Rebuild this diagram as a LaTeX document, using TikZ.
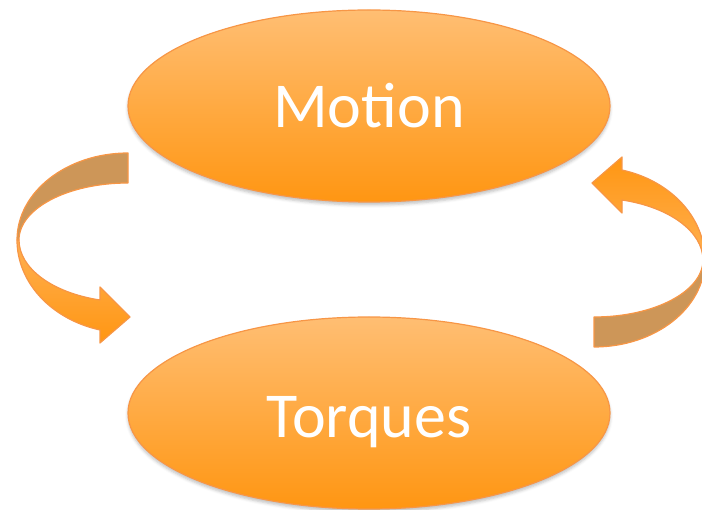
\documentclass[tikz,border=0pt]{standalone}
\usepackage{fontspec}
\setmainfont{Carlito}
\usetikzlibrary{shapes.geometric,shadows.blur}

\definecolor{rimorange}{RGB}{247,150,70}
\definecolor{lightorange}{RGB}{255,190,115}
\definecolor{deeporange}{RGB}{255,150,18}
\definecolor{bandlight}{RGB}{255,176,82}
\definecolor{bandtan}{RGB}{205,150,88}

\tikzset{
  bubble/.style={ellipse, draw=rimorange, line width=1.2pt,
    top color=lightorange, bottom color=deeporange,
    minimum width=482pt, minimum height=192pt, inner sep=0pt,
    blur shadow={shadow xshift=0pt, shadow yshift=-3pt,
                 shadow blur radius=3pt, shadow opacity=25}},
  bubbletext/.style={text=white, font=\fontsize{64}{70}\selectfont, anchor=base},
  backband/.style={fill=bandtan, draw=rimorange, line width=1.2pt, line join=round},
  frontband/.style={draw=rimorange, line width=1.2pt, line join=round},
}

\begin{document}
\begin{tikzpicture}[x=1pt,y=-1pt]
  \useasboundingbox (0,0) rectangle (702,510);

  % the two states
  \node[bubble] (motion)  at (369,106) {};
  \node[bubble] (torques) at (369,413) {};
  \node[bubbletext] (motionlabel)  at (369,128) {Motion};
  \node[bubbletext] (torqueslabel) at (369,438) {Torques};

  % left curved arrow: Motion -> Torques
  \path[backband] (128,153) arc[start angle=270, end angle=180, x radius=111, y radius=87]
    -- (19,240) arc[start angle=180, end angle=270, x radius=109, y radius=57] -- cycle;
  \path[frontband, top color=bandlight, bottom color=deeporange]
    (17,240) arc[start angle=180, end angle=104.6, x radius=111, y radius=93]
    -- (100,343) -- (130,317) -- (100,287) -- (100,300)
    arc[start angle=104.9, end angle=180, x radius=109, y radius=62] -- cycle;

  % right curved arrow: Torques -> Motion
  \path[backband] (594,347) arc[start angle=90, end angle=0, x radius=111, y radius=87]
    -- (703,260) arc[start angle=0, end angle=90, x radius=109, y radius=57] -- cycle;
  \path[frontband, top color=deeporange, bottom color=bandlight]
    (705,260) arc[start angle=0, end angle=-75.4, x radius=111, y radius=93]
    -- (622,157) -- (592,183) -- (622,213) -- (622,200)
    arc[start angle=-75.1, end angle=0, x radius=109, y radius=62] -- cycle;
\end{tikzpicture}
\end{document}
